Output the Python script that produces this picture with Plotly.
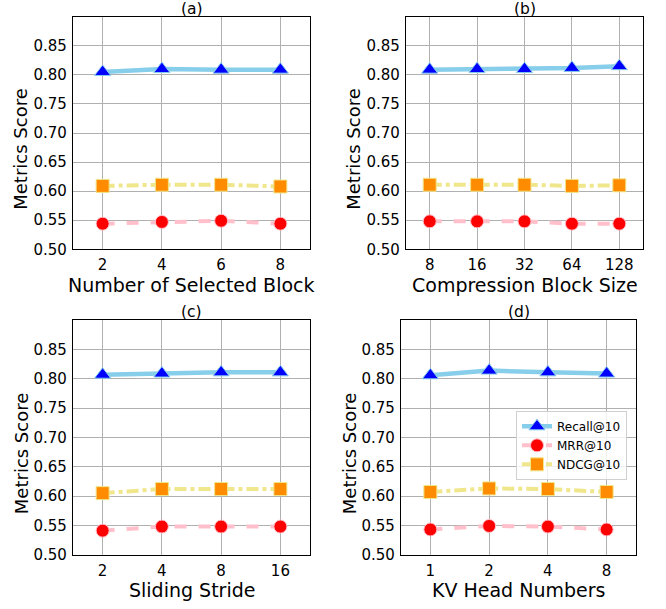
import plotly.graph_objects as go

W, H = 666, 609

# ---- data ----
xa = ["2", "4", "6", "8"]
recall_a = [0.805, 0.810, 0.809, 0.809]
mrr_a = [0.544, 0.547, 0.549, 0.544]
ndcg_a = [0.609, 0.611, 0.611, 0.608]

xb = ["8", "16", "32", "64", "128"]
recall_b = [0.809, 0.810, 0.810, 0.812, 0.815]
mrr_b = [0.548, 0.548, 0.548, 0.544, 0.544]
ndcg_b = [0.611, 0.611, 0.611, 0.609, 0.610]

xc = ["2", "4", "8", "16"]
recall_c = [0.807, 0.809, 0.811, 0.811]
mrr_c = [0.541, 0.548, 0.548, 0.548]
ndcg_c = [0.605, 0.612, 0.612, 0.612]

xd = ["1", "2", "4", "8"]
recall_d = [0.806, 0.814, 0.811, 0.809]
mrr_d = [0.543, 0.549, 0.548, 0.543]
ndcg_d = [0.607, 0.613, 0.612, 0.607]

panels = [
    ("(a)", "Number of Selected Block", xa, recall_a, mrr_a, ndcg_a),
    ("(b)", "Compression Block Size", xb, recall_b, mrr_b, ndcg_b),
    ("(c)", "Sliding Stride", xc, recall_c, mrr_c, ndcg_c),
    ("(d)", "KV Head Numbers", xd, recall_d, mrr_d, ndcg_d),
]
yticks = [0.50, 0.55, 0.60, 0.65, 0.70, 0.75, 0.80, 0.85]

# pixel boxes (left, right, top, bottom)
boxes = [(73, 310, 17, 253), (406, 643, 17, 253), (73, 310, 325, 563), (401, 636, 325, 563)]

FONT = "DejaVu Sans"
fig = go.Figure()
annotations = []
for i, ((ttl, xlab, xs, rc, mr, nd), (l, r, t, b)) in enumerate(zip(panels, boxes)):
    n = i + 1
    xax = "x" if n == 1 else f"x{n}"
    yax = "y" if n == 1 else f"y{n}"
    show = (n == 4)
    idx = list(range(len(xs)))
    fig.add_trace(go.Scatter(x=idx, y=rc, xaxis=xax, yaxis=yax, name="Recall@10", mode="lines+markers",
                             line=dict(color="#87CEEB", width=4.5),
                             marker=dict(symbol="triangle-up", size=14, color="#0000FF",
                                         line=dict(color="#87CEEB", width=1)),
                             showlegend=show))
    fig.add_trace(go.Scatter(x=idx, y=mr, xaxis=xax, yaxis=yax, name="MRR@10", mode="lines+markers",
                             line=dict(color="#FFC0CB", width=4, dash="dash"),
                             marker=dict(symbol="circle", size=13, color="#FF0000",
                                         line=dict(color="#FFC0CB", width=1)),
                             showlegend=show))
    fig.add_trace(go.Scatter(x=idx, y=nd, xaxis=xax, yaxis=yax, name="NDCG@10", mode="lines+markers",
                             line=dict(color="#F0E68C", width=4, dash="dashdot"),
                             marker=dict(symbol="square", size=13, color="#FF8C00",
                                         line=dict(color="#F0E68C", width=1)),
                             showlegend=show))
    xd_ = [l / W, r / W]
    yd_ = [1 - b / H, 1 - t / H]
    common = dict(showline=True, linecolor="black", linewidth=1.2, mirror=True,
                  showgrid=True, gridcolor="#b0b0b0", gridwidth=1, zeroline=False,
                  ticks="", ticklabelstandoff=2,
                  tickfont=dict(family=FONT, size=15, color="black"))
    fig.layout[f"xaxis{'' if n == 1 else n}"] = dict(
        domain=xd_, anchor=yax, range=[-0.5, len(xs) - 0.5],
        tickmode="array", tickvals=idx, ticktext=xs, **common)
    fig.layout[f"yaxis{'' if n == 1 else n}"] = dict(
        domain=yd_, anchor=xax, range=[0.5, 0.9],
        tickmode="array", tickvals=yticks, ticktext=[f"{v:.2f}" for v in yticks], **common)
    cx = (l + r) / 2
    annotations.append(dict(text=ttl, x=cx / W, y=1 - (t - 18) / H, xref="paper", yref="paper",
                            xanchor="center", yanchor="top", showarrow=False, borderpad=0,
                            font=dict(family=FONT, size=15.5, color="black")))
    annotations.append(dict(text=xlab, x=cx / W, y=1 - (b + 36) / H, xref="paper", yref="paper",
                            xanchor="center", yanchor="middle", showarrow=False, borderpad=0,
                            font=dict(family=FONT, size=19, color="black")))
    annotations.append(dict(text="Metrics Score", x=(l - 52) / W, y=1 - ((t + b) / 2 + 17) / H,
                            xref="paper", yref="paper", textangle=-90,
                            xanchor="center", yanchor="middle", showarrow=False,
                            font=dict(family=FONT, size=18, color="black")))

fig.update_layout(
    width=W, height=H, margin=dict(l=0, r=0, t=0, b=0),
    paper_bgcolor="white", plot_bgcolor="white",
    annotations=annotations,
    legend=dict(x=516 / W, y=1 - 417 / H, xanchor="left", yanchor="top",
                bgcolor="rgba(255,255,255,0.8)", bordercolor="#d0d0d0", borderwidth=1,
                font=dict(family=FONT, size=12, color="black"),
                itemwidth=30, tracegroupgap=0),
    font=dict(family=FONT),
)

fig.write_html("out.html")
